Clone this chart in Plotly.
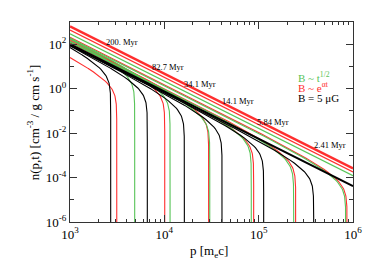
import numpy as np
import plotly.graph_objects as go

# ---------------- data ----------------
times = ["200.", "82.7", "34.1", "14.1", "5.84", "2.41"]          # Myr
slope = 2.13                                                       # spectral index
# log10 n at p = 1e3 m_e c, and cutoff momentum (m_e c), per time
black_logn0 = [1.97, 1.97, 1.97, 1.97, 1.97, 1.97]
black_pcut = [2.70e3, 6.6e3, 1.63e4, 4.09e4, 1.13e5, 3.83e5]
green_logn0 = [2.30, 2.28, 2.12, 2.10, 2.12, 2.28]
green_pcut = [4.85e3, 1.15e4, 3.03e4, 8.35e4, 2.35e5, 8.37e5]
red_logn0 = [1.50, 2.28, 2.20, 2.08, 2.15, 2.32]
red_pcut = [3.13e3, 1.01e4, 2.95e4, 8.85e4, 2.47e5, 8.65e5]
# uncut envelope spectra
env_colors = ["green", "red", "red", "black"]
env_logn0 = [2.47, 2.64, 2.80, 2.00]

legend_text = ["B ~ t<sup>1/2</sup>", "B ~ e<sup>αt</sup>", "B = 5 μG"]

x_tickvals = [1e3, 1e4, 1e5, 1e6]
x_ticktext = ["10<sup>3</sup>", "10<sup>4</sup>", "10<sup>5</sup>", "10<sup>6</sup>"]
y_tickvals = [1e-6, 1e-4, 1e-2, 1e0, 1e2]
y_ticktext = ["10<sup>-6</sup>", "10<sup>-4</sup>", "10<sup>-2</sup>", "10<sup>0</sup>", "10<sup>2</sup>"]

# ---------------- styling ----------------
COL = {"red": "#ff2e2e", "green": "#58c458", "black": "#000000"}
SERIF = "Liberation Serif, Times New Roman, serif"
P0 = 1e3
ROLL = 0.6

def curve(logn0, pcut):
    p1 = np.logspace(3, np.log10(pcut) - 0.3, 80)
    u = np.linspace(0.3, 13, 200)
    p2 = pcut * (1 - 10 ** (-u))
    p = np.concatenate([p1, p2])
    n = 10 ** logn0 * (p / P0) ** (-slope) * (1 - p / pcut) ** ROLL
    return p, n

fig = go.Figure()

def add_cut(color, logn0s, pcuts, width=1.1):
    for a, pc in zip(logn0s, pcuts):
        p, n = curve(a, pc)
        fig.add_trace(go.Scatter(x=p, y=n, mode="lines",
                                 line=dict(color=COL[color], width=width),
                                 showlegend=False, hoverinfo="skip"))

add_cut("red", red_logn0, red_pcut)
add_cut("green", green_logn0, green_pcut)
add_cut("black", black_logn0, black_pcut, width=1.1)

env_w = [1.3, 1.3, 2.4, 2.0]
for c, a, w in zip(env_colors, env_logn0, env_w):
    p = np.logspace(3, 6, 50)
    n = 10 ** a * (p / P0) ** (-slope)
    fig.add_trace(go.Scatter(x=p, y=n, mode="lines",
                             line=dict(color=COL[c], width=w),
                             showlegend=False, hoverinfo="skip"))

# time labels placed along upper envelope
label_pos = [(3.551, 2.09), (4.039, 0.97), (4.378, 0.20),
             (4.781, -0.56), (5.152, -1.51), (5.756, -2.54)]
for t, (lx, ly) in zip(times, label_pos):
    fig.add_annotation(x=lx, y=ly, text=f"{t} Myr", showarrow=False,
                       font=dict(family=SERIF, size=8.5, color="black"))

leg_cols = ["green", "red", "black"]
for i, (txt, c) in enumerate(zip(legend_text, leg_cols)):
    fig.add_annotation(xref="paper", yref="paper", x=0.80, y=0.727 - i * 0.054,
                       xanchor="left", yanchor="middle", text=txt, showarrow=False,
                       font=dict(family=SERIF, size=11, color=COL[c]))

# axis titles
fig.add_annotation(xref="paper", yref="paper", x=0.49, y=-0.145, text="p [m<sub>e</sub>c]",
                   showarrow=False, xanchor="center", yanchor="middle",
                   font=dict(family=SERIF, size=13, color="black"))
fig.add_annotation(xref="paper", yref="paper", x=-0.13, y=0.5, textangle=-90,
                   text="n(p,t) [cm<sup>-3</sup> / g cm s<sup>-1</sup>]",
                   showarrow=False, xanchor="center", yanchor="middle",
                   font=dict(family=SERIF, size=13, color="black"))

minor_x = [m * 10 ** d for d in range(3, 6) for m in range(2, 10)]
minor_y = [10.0 ** e for e in (-5, -3, -1, 1, 3)]

axis_common = dict(showgrid=False, zeroline=False, showline=True, linecolor="#333",
                   linewidth=1, mirror="ticks", ticks="inside", tickcolor="#333",
                   tickfont=dict(family=SERIF, size=13, color="black"),
                   automargin=False, tickmode="array")

fig.update_xaxes(type="log", range=[3, 6], tickvals=x_tickvals, ticktext=x_ticktext,
                 ticklen=7,
                 minor=dict(tickvals=minor_x, ticks="inside", ticklen=3, tickcolor="#333"),
                 **axis_common)
fig.update_yaxes(type="log", range=[-6, 3], tickvals=y_tickvals, ticktext=y_ticktext,
                 ticklen=7,
                 minor=dict(tickvals=minor_y, ticks="inside", ticklen=4, tickcolor="#333"),
                 **axis_common)

# page body adds an 8px offset; size the figure so the plot area lands at 70..353 x 22..222
fig.update_layout(width=366, height=259, margin=dict(l=62, r=21, t=14, b=45),
                  paper_bgcolor="white", plot_bgcolor="white", showlegend=False,
                  font=dict(family=SERIF, color="black"))

fig.write_html("out.html")
